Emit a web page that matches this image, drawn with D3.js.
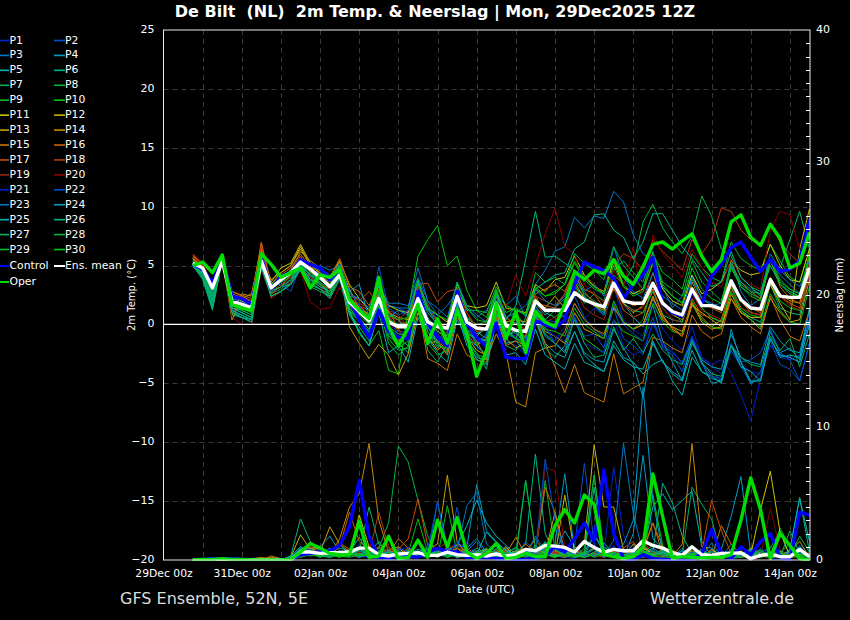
<!DOCTYPE html>
<html><head><meta charset="utf-8">
<script src="https://cdn.jsdelivr.net/npm/d3@7"></script>
<style>html,body{margin:0;padding:0;background:#000;overflow:hidden}svg{display:block}text{font-family:"DejaVu Sans",sans-serif;fill:#fff}</style>
</head><body><svg id="c" width="850" height="620"></svg>
<script>
const memberLabels=["P1","P2","P3","P4","P5","P6","P7","P8","P9","P10","P11","P12","P13","P14","P15","P16","P17","P18","P19","P20","P21","P22","P23","P24","P25","P26","P27","P28","P29","P30"];
const rampColors=["#0022cc","#0050cc","#0078c4","#009cc4","#00b4b4","#00b488","#00b460","#00b440","#00bc1c","#00c800","#c8c800","#c8b400","#c8a000","#c88800","#c87400","#c86400","#c85000","#b43810","#a02410","#8c0000","#0022cc","#0050cc","#0078c4","#009cc4","#00b4b4","#00b488","#00b460","#00b440","#00bc1c","#00c800"];
const memberTemp=[
[5.2,4.6,3,5.6,2.2,1.8,1.2,5.6,3.4,3.6,4.6,5.4,4.6,4.4,3.4,4.4,1.6,0.4,-1.2,1.8,0.2,-0.8,-0.4,2.6,0.4,-1.2,-1.8,1.8,-0.8,-2,-2.4,0.8,-1.4,-1.8,-2.6,0.6,-0.8,-1.4,-0.2,1.8,0.4,1.4,0.8,3.2,0.4,-0.4,-1,2.2,-0.4,-1.4,-2.2,-0.2,-2.8,-3.6,-4.2,-1.8,-3.4,-4,-4.2,-1.8,-2.8,-3,-2.6,0.6],
[5.3,4.9,3.4,5.7,2.3,2,1.6,5.8,3.2,3.8,4.4,5.2,5,4.8,4.2,4.8,1.8,1.2,0.2,3.4,1.6,1.4,1,3.8,1.4,0.2,-0.6,3.2,-0.4,-1,-1.6,1.2,-0.8,-1.2,-1.4,1.4,0.4,0.2,0.8,2.4,0.6,-0.4,-1,1.4,-1.2,-1.8,-2.6,0.2,-1.8,-2.4,-3.2,-1,-3.4,-4,-4.8,-2.2,-3.6,-5,-4,-1.4,-3.4,-3.8,-4.8,-1.6],
[5.4,4.4,2.6,5.9,2.6,2,1.6,6,3.4,3.4,3.4,5.6,4.6,5,4.6,5,2.2,0.8,0.6,2.8,1.6,1.4,1.4,4.8,2,0.8,1.6,2.8,1.4,0.6,1.2,2.6,1.6,2.4,0.6,3.4,4.6,6.2,6.6,9.1,8.2,9.2,9,11.3,10.4,7.6,6,5.4,3.2,1.4,2.4,4.2,2.2,1.8,1.4,5.6,2.8,1.6,2.2,5.4,4.2,3.4,2.6,4.6],
[5.1,4.2,2.2,5.8,1.4,1.2,0.8,5.4,2.8,3.2,3.8,5,3.8,3.4,3,4.6,2.4,2.2,1.4,3.2,1,0.4,-0.8,1.8,-0.2,-1.4,-0.6,2.2,0.2,-1.8,-0.8,2.4,-0.2,0.2,-1.2,1.8,0.8,1.4,2.2,3.2,2.4,1.6,0.8,3.6,1.8,0.6,-0.2,1.6,-1.4,-3.2,-4.8,-1.2,-3.2,-5,-4.8,-0.4,-3.2,-5,-4.6,-0.6,-2.4,-2,-3,1.4],
[4.9,4.2,1.9,5.5,1,0.6,0.4,5,2.8,3.2,3.4,4.8,3.8,3.6,2.4,4,1.2,-0.6,-1.8,1.2,-1,-1.6,-2.4,1.8,-0.6,-1.6,-2.4,1,-1.8,-2.8,-3,0.8,-1.6,-1.4,-2.4,0.4,-1.6,-2.4,-2.8,-0.6,-2.6,-3.4,-4,-1.4,-2.8,-3.2,-4.2,-3.4,-3,-4.8,-6,-2.8,-4,-4.4,-5,-1.8,-3.6,-4,-4.8,-1.2,-2.8,-2.6,-2.8,0.4],
[5,3.8,1.2,5.4,0.8,0.6,0.2,4.8,2.4,2.8,3.6,5.2,3.4,3,2.4,4.4,1.2,0.4,-0.6,2.2,0.6,-0.2,0,3,1,0,-1,2,0.6,-0.6,-1.2,2.8,0.4,1.6,5.5,9.6,5.7,5.8,5.2,4.6,2.4,1.6,1,3.8,1.8,1.2,1,2.8,0.8,0.4,0.2,2.8,1.4,0.6,0.2,3.2,1.2,0.6,0.2,3.4,1.4,1,0.8,4.2],
[5.2,4.2,1.4,5.6,1.2,0.8,0.4,5.2,2.6,3,3.8,5,3.4,3,2.6,4.2,1,-0.2,-1.4,1.8,-0.8,-1.2,-1.8,2.2,-0.6,-2,-1.2,1.4,-1.4,-2.4,-3.8,0.4,-1.8,-2.2,-1,1.6,0.4,1.2,0.6,3.4,1.8,2.6,2,4.6,5.4,4.4,3.6,6.2,3.2,2.4,1.8,3.8,2.2,1.6,1.2,5,3.2,2.6,2.2,5.4,4.8,7.2,9.6,6.4],
[5.1,4,1.6,5.6,1.4,1,0.6,5.2,3,3.6,4,5.4,4,3.4,2.8,4.4,2,0.2,-0.6,2.6,0.4,0,0.2,3.4,1.2,0.4,-0.4,2.8,0.6,0,0.2,3,0.6,1,-0.2,2.4,1,0.6,1.4,3.8,2.6,2,1.4,4.2,3.4,5,8.7,10.2,8.2,7,6,7.5,10.9,9.2,6.4,5.8,4,3.2,2.8,5.4,3.6,3,2.6,5.6],
[5.3,4.7,2.8,5.6,1.8,1.4,1,5.6,3,3.8,4.4,5.2,4.2,3.6,3,4.2,1.4,0.4,-0.4,2.4,-1.2,-2.2,-2,1.6,-1.6,-2.6,-2.2,1.8,-0.4,-1.6,-1.2,2.6,0.2,-0.6,-0.4,3,2.4,2.8,3.4,5.2,3.8,3,2.6,5.6,3.4,2.6,3,6,4.4,3.8,3,6,4.8,4,3.6,7,5.6,5,4.6,6.8,5.4,4,3.6,6.4],
[5.2,4.6,2.6,5.7,2,1.6,1.2,5.4,3.2,3.8,4.2,5,3.8,3.4,2.6,4,1.2,-0.8,-1.8,-0.5,-3.9,-4.2,1.2,5.8,7.2,8.4,5,5.8,2.9,1.2,0.6,2.8,-0.4,-1.2,-1.6,0.6,-0.8,-1.6,-2.4,0.6,-1.2,-1.8,-2.4,0.4,-0.6,-1,-1.4,1.8,0.2,-0.6,-0.8,2,0.4,-0.2,-0.4,3.2,1.4,0.8,0.6,3.6,2,1.4,1.2,4.6],
[5.6,4.8,3.4,5.7,2.6,2.2,1.8,6.2,3.6,4.8,5.2,6.8,5.2,4.2,3.4,5.4,3.4,2.2,1.2,3.4,1.6,1.2,1,3.6,1.4,0.8,0.2,3.4,1.6,1.4,1.6,3.6,1.4,1.2,1,3.4,2.8,3.8,4,5.8,4.2,3.2,2.8,5.4,3.2,2.6,3,5.2,3,2,1.6,4.2,2.6,3,3.6,5.4,4.6,4.2,4.4,6.8,5,3.8,3.6,6.4],
[5.5,5,3.2,5.5,0.4,2.2,2.6,6.4,3.4,4.4,5,6.6,5,4.4,3.8,5,3,1.4,0.8,2.8,1,0.6,0.4,2.8,0.6,-0.6,-1,1.8,0.4,-1,-0.2,2,0.2,0.4,0.2,2.2,1.4,2.4,1.4,3.6,2.2,1.6,1.2,3,1.8,1,1.6,3,0.8,-0.4,-1,1.6,1,0.4,-0.2,2.2,1,0.6,0.6,3.4,1.8,0.4,6.4,9.8],
[5.8,5,3.6,5.8,2.4,2,1.6,5.8,3.8,4.4,5,6.4,5,4,3.2,4.8,-0.2,-1.6,-2.9,-1.7,-2.6,-4.3,-2.5,1,-1,-2.2,-1.4,1.6,-1,-2.2,-2.6,1,-1.2,-2,-1.6,0.8,-0.6,-1,-1.6,1,-0.4,-0.8,-1.2,1.4,0.2,-0.4,0,2.4,0.4,-0.2,-0.6,1.8,0.2,-0.4,-0.2,2.6,1,0.4,-0.4,2.2,1,0.2,0.4,3.8],
[5.6,4.6,3,5.9,0.8,2.6,2.4,6.8,3,4,4.6,6.2,5.4,4.8,4,5.4,2.4,1.4,0.8,2.4,-0.6,-1.4,-0.4,1.6,-1.6,-1.4,-2.6,0.6,-0.6,-1.4,-3,-0.8,-2.4,-6.6,-7,-2.4,-2,-1.8,-0.6,1.8,0.4,-0.4,-0.8,1.6,0.2,-0.4,0,2.2,0.6,-0.2,-1,1.8,0.6,-0.2,0.4,3.4,2,1,0.8,4,2.6,2,1.8,5.6],
[5.7,4.8,3.2,5.6,2.8,2.4,2,6.6,3.2,3.8,4.6,5.8,4.4,4.2,3.6,4.8,2.2,1.6,0.8,3,0.6,-0.6,-0.8,1.6,-2.9,-3.3,-3.9,-0.8,-2.6,-3,-3.2,0.6,-1.8,-1.4,-1.8,0.8,-1.6,-3.6,-5.8,-3.4,-5.8,-6.2,-6.6,-2.5,-5.9,-5.4,-4.9,-1.1,-1.4,-2,-2.4,0.8,-0.6,-1.2,-0.8,2.2,0.6,-0.2,-0.8,2.4,0.4,-1,-1.4,1.2],
[5.5,4.9,3,5.8,2.8,2.5,2.2,7,3.4,4.2,4.8,6,4.8,4.6,4,5.6,3.2,2.8,1.6,3.6,1.2,-0.4,-1.2,2.2,0.4,-1.4,-2.2,1.6,-0.8,-1.8,-1.2,2.4,0.6,0,-0.4,2.6,3,3.4,2.8,4.6,3,2.6,1.4,4,2.2,1.6,1.8,4.4,1.8,0.8,0.4,3.6,1.8,1.4,1,5.2,3.6,2.8,2.2,5.6,3.2,2.2,1.8,5],
[5.9,5.1,3,5.8,2.6,2.3,1.9,6.9,2.6,3.2,4.2,5.4,4.4,4,3.4,4.6,2.6,2,2.8,1.6,0.8,0.4,-0.2,3.4,3.5,1.9,2.8,3,1,-0.6,-0.4,1.4,-0.2,-0.8,-1,1.8,1.6,1.4,2.6,4.2,2.8,1.8,1.4,3.2,1.2,0.6,1,3,0.6,-0.4,-1,2.2,0.8,0.6,0.2,3.4,2,1.4,1,4,2.4,1.8,1.4,4.4],
[5.8,5,3.2,5.9,2.4,2.2,1.6,6.6,2.8,3.4,4,4.8,4,3.4,3,4.2,2,1.6,1.2,2.4,0.6,0.4,1.2,3.2,1.8,0,-0.2,2,0.4,-0.6,-0.4,1.6,-0.4,0.4,-0.6,2.4,2,1.6,2.6,4.6,4.2,3.4,2.6,5,6,5.6,4.6,7.2,6.2,5.4,4.6,7.2,6,7.2,9.9,9.6,8,7.2,6.8,8.6,7,6,5.2,7.6],
[6,5.2,3.4,5.7,2,1.8,1.4,6,2.2,2.8,3.4,4.8,3.8,3.2,2.2,4.2,2.2,1.8,1.4,2.8,1.2,0.8,-0.2,2,0,-1.2,-0.6,2.2,1,-0.2,-0.4,1.2,-0.6,-1,-0.6,2.4,0.2,0.6,1.2,3.2,1.4,0.8,0.4,3.2,1.6,1.2,1.4,3.6,1.4,0.4,0.2,2.6,1.2,0.8,0.4,3,1.4,1,0.8,3.8,2.4,1.6,1.2,4],
[6,5.2,3.5,5.5,0.6,0,0,4.6,2.4,3.2,3.6,4.6,1.9,1.3,1.4,3.2,1.4,0.8,0.4,2.4,0,-0.6,-0.8,1.4,0.2,-1,-0.4,1.6,0.4,-0.6,0.4,1.8,1.6,4.2,2.4,5,7.7,9.9,6.6,6,3.4,2.6,1.8,4.6,3.2,6.6,1.4,7.6,6,5,4,6.4,4.8,3.6,3.2,5.6,4,3.4,3,8,9.6,9.3,6.4,5.4],
[5.2,4.8,3,5.6,2,1.6,1.2,5.4,3,3.8,4.4,5.4,4.8,4.2,3,4.4,1.8,0.6,-0.8,1.8,0.4,-0.8,-0.6,2.8,0.6,-0.8,-1.6,2.4,0.4,-1.2,-1.8,1.6,-0.6,-1,-1.6,1.2,-0.4,-1,-1.4,0.8,-1.6,-2,-2.4,0.4,-1.8,-2.6,-2.2,0,-1.6,-2.2,-3.4,-1,-2.8,-3.4,-3,-4.1,-6,-8.2,-4.6,-1.2,-2.6,-2.8,-3.2,0.2],
[5.4,4.5,2.8,5.8,1.6,1.4,1,5.6,3.4,3.4,2.8,5,4.2,4,3.4,4.8,2.8,1.6,0.4,4.9,1.4,0.8,1.2,3.6,1.6,0.4,-0.4,2,-0.6,-1.4,-1,2,0,-0.8,-1.4,1.4,-0.2,-1.6,-2.2,0.6,-1,-0.8,-2,1.8,0,-0.8,-1.4,0.6,-2,-2.6,-4,-1.2,-3.4,-4.4,-4.6,-1.6,-3.2,-3,-2.4,-0.4,-2.4,-3,-4.8,-1.6],
[5.3,4.7,2.9,5.7,2.2,1.9,1.5,5.7,3.2,3.6,4.4,5.6,5,4.6,3.8,5.2,2.6,2.2,1.4,3.4,1.8,1.8,1.6,4,2,1.4,0.6,3.6,1.6,0.8,0.2,2.4,0.6,1,1.6,3,2,1.6,2.4,4,2.8,3.4,2.4,6.6,4,2.8,2.2,4.4,2.4,1.8,1.2,4,2.2,1.6,1.8,5,3.6,3,2.6,6,4.6,3.8,3.2,5.4],
[5,4.4,2.4,6,1.2,0.8,0.4,5.2,2.8,3.2,3.8,5.2,4.2,3.8,3.2,4.8,2.8,3.4,0.6,2.4,0.6,1.2,0.8,3.6,1.4,-0.2,-1.2,1.8,0.2,-0.8,-0.4,2,-0.8,-0.6,-1.8,0.8,-1,-1.6,-2.4,-0.6,-2.4,-3,-3.2,-0.4,-2,-3.4,-6.2,-1.4,-3.2,-4,-4.6,-1.6,-3,-3.6,-3.8,-0.8,-2.8,-3.2,-3.4,-0.2,-1.4,-2.2,-2.4,1.2],
[5.1,4.3,2.1,5.7,1.4,1,0.6,5.2,2.4,2.8,3.4,5,3.8,3.2,2.8,4.2,1,-0.6,-1.8,1,-2.4,-1.8,-3.2,0.6,-1.2,-2.4,-3.2,0.4,-1.2,-3,-3.4,0.2,-2.6,-2.4,-3.4,-0.4,-2.6,-3.2,-3.8,-1.6,-3.2,-3.6,-4,-1.8,-3,-3.6,-3.8,-1.6,-3.2,-4.2,-4.8,-2.2,-4,-4.6,-4.8,-1.8,-3.2,-4.8,-4.8,-1.2,-2.6,-2.8,-3.2,0],
[5,4,1.6,5.6,1,0.6,0.2,4.8,2.4,2.8,3.4,4.8,3.6,3,2.2,3.8,0.8,-0.6,-1.8,1.6,-0.4,-1,-1.2,2.6,-0.2,-1.6,-0.8,1.6,-0.8,-1.2,-1.4,1.8,-0.4,-1.2,0.6,3,3.6,4.2,4.4,6.4,7,9.3,9.4,8,7.4,5.6,7,9.4,9.4,8,6.6,5.6,4.4,3.2,3.6,6.2,4,3.2,2.4,5,3.4,2.8,2.4,4.8],
[5.1,4,1.4,5.6,1,0.8,0.4,5,2.4,2.8,3.4,4.6,3.2,2.8,2.4,4,1.6,0.6,-0.4,2.6,-0.2,-0.8,-1,2.2,-2.2,-3.2,-1.6,1.4,-1.2,-1.8,-2.6,1.6,-1,-0.6,-1.8,0.4,-2,-2.8,-1.8,0.4,-1.6,-2.8,-2.6,-0.2,-2.2,-1.2,-2.4,-0.8,-2.2,-3,-3.4,-1.4,-3.2,-4.2,-4.4,-1.8,-2.8,-3.4,-3.6,-1,-2.2,-1.2,-3.6,-0.8],
[5.2,4.2,2.2,5.6,1.6,1.2,0.8,5.2,2.8,3.2,3.8,5,4.2,3.4,2.8,4.4,1.2,0.2,-1,2,-0.6,-2,-1.4,2.8,0.6,-0.6,-1.2,3.6,1.2,1.2,1,3.2,1.6,1.2,0.8,4.4,3.6,4,3.4,6,5.2,4.6,3.8,6.6,5,4,3,6,3.6,3,2.4,5.4,3.6,2.8,2,5.2,3.4,2.8,2.6,5.6,3.8,3,2.6,6],
[5.3,4.5,2.6,5.9,1.8,1.4,1,5.4,3,3.6,4.2,5.6,4.4,3.8,3.2,4.6,1.4,0.4,-0.8,1.6,-1.6,-2.6,-1.8,2.2,0.2,-1.8,-2,1.4,-1.2,-2.6,-2.8,1,-0.6,-1.2,-1.8,1,-0.4,-0.6,-1,1.4,0,-0.6,-1.2,2,0.2,-0.4,0.4,3.6,2,1,0.2,3.2,1.4,0.6,0.2,2.8,1.2,0.4,-0.2,2.6,1.2,0.2,0,3.2],
[5.2,4.7,3,5.8,2,1.6,1.2,5.6,3.4,4,4.6,5.4,4.6,4,3.4,5,2.2,0.8,0,2.8,0.8,0.4,0.6,3.8,1.4,0.8,0.4,3,1.4,0.4,0.2,2.6,1,1.4,0.8,3.2,2.4,2.6,3.4,5.4,4,3.2,2.6,5,3.2,2.4,2.8,5.2,3.4,2.4,1.8,4.8,3,2.2,1.8,4.8,3.2,2.4,2,5.4,3.4,2.6,2.4,6]
];
const controlTemp=[5.1,4.7,3.5,5.7,2.4,2.2,1.7,5.7,3,4.1,4.4,5.5,5.1,4.8,3.8,4.7,2.1,0.4,-1.1,1.2,-0.6,-1.1,-1.2,2.8,0.1,-1.1,-1.8,2.8,0.1,-1.1,-1.9,0.1,-2.8,-2.9,-2.9,0.3,0,-0.3,0.4,3.4,5.3,4.9,4.6,3.9,2.2,3.4,4.2,5.7,1.8,1,0.7,2.8,1.7,4.1,5.1,6.5,7,5.7,4.5,5.5,4.5,4.7,5.4,8.9];
const operTemp=[5,5.3,4.4,5.9,1.7,1.4,1.2,6,5.1,4,4.4,4.8,3.1,4.2,4,4.7,2.1,1.2,0.5,4,-0.2,-1.8,-0.3,1.7,-1.6,0.5,-1.6,1.2,-0.8,-4.4,-2.2,1.8,-1.2,1.1,-2.4,1.1,0.2,-0.2,1.7,4.5,3.8,4.6,4.3,5.5,4.1,3.4,4.9,6.8,7,6.4,7.1,7.7,5.8,4.5,5.5,8.7,9.3,7.4,6.7,8.5,7.3,4.8,5.2,7.8];
const meanTemp=[5.2,4.8,3.1,5.4,1.95,1.7,1.4,5.4,3.1,3.8,4.4,5.3,4.7,4,3.2,4.2,1.9,1.1,0.3,2.2,0.2,-0.2,-0.2,2.2,0.2,-0.2,-0.3,2.4,0.2,-0.3,-0.4,1.8,-0.1,-0.5,-0.6,2,1.2,1.2,1.2,2.7,2.1,1.75,1.5,3.5,2,1.8,1.8,3.5,1.8,1.1,0.8,3,1.6,1.6,1.3,3.7,2.1,1.4,1.3,3.8,2.4,2.3,2.3,4.8];
const memberRain=[
[0,0,.1,0,0,0,0,0,0,0,.1,.4,.6,.3,.8,.5,.4,1.2,.3,.2,0,.1,.6,.2,.4,.2,.8,.1,1.4,.3,.2,.6,.1,.8,.3,.1,1.2,.4,.2,.1,.6,2.2,.3,1.1,.2,.1,.4,.8,.2,0,.1,.3,0,.1,.8,.2,.6,.1,.3,.2,0,.4,.1,0],
[0,0,.1,0,0,0,0,0,0,0,0,.7,.9,.4,.2,.6,.8,.4,.2,.1,.5,.8,.2,.6,1,.4,.6,1.4,.3,.5,.4,.8,.2,.1,1.4,.6,.3,2.4,.6,1,7.3,1.2,.3,.4,.2,.6,.9,.3,.1,.6,.2,.4,.1,.8,.3,.1,.2,.4,.2,1,.1,.2,1.1,.4],
[0,0,0,.1,0,0,0,0,0,0,.2,1,.7,.5,.3,1.2,.4,.2,.6,.3,.1,.4,.8,.3,.2,4.4,1,.3,.7,1.4,.4,.2,.9,.1,.4,1.8,.7,.3,.2,.6,.4,1.1,.3,1.5,8.8,3.5,.5,.6,.3,.2,.9,.1,.3,.7,.2,1.2,.4,.3,.8,.1,.4,.6,.2,.3],
[0,0,0,0,0,.1,0,0,0,0,0,.5,.8,1,1.8,.6,.3,.9,.4,.2,.3,.2,.5,.6,.3,.8,.4,1.2,1,5.7,2.2,1.4,.7,.3,.5,.2,.6,1.2,6.5,.7,.2,.5,1,.3,.2,2,7.9,1.6,.9,.4,.3,.1,.5,.2,.8,3.3,6.3,.5,.3,.2,.6,.2,.8,.3],
[0,.1,0,0,0,0,0,0,0,0,.1,.9,.4,.3,.2,.4,.6,1.7,.4,.3,.2,.5,.1,.3,.6,.4,.7,1.1,2.6,4.5,2.8,1.8,1.1,.4,.7,.2,1.4,.5,2.2,1,.5,.3,1.3,.4,.3,1.2,.6,4,5,3.8,4.5,5.2,1,.9,.3,.1,.5,.2,.4,.6,.2,.3,1,.2],
[0,0,.1,0,0,0,0,0,0,0,.3,3.1,1.4,.5,.7,.9,.7,.3,.5,1.4,.3,.2,.6,.4,.9,.3,.6,.2,.4,.9,.5,.6,.3,.6,1.2,8,2,.4,.7,.3,.2,.4,.7,.3,.4,.2,1,.6,5.8,4.3,1.8,.5,.3,.2,.1,.3,.4,.2,.5,.3,.2,.7,4.7,.6],
[0,0,0,0,0,0,0,0,0,0,0,.6,.5,.2,.9,.4,.3,.6,4,1.2,.4,.1,.3,.7,.2,.5,.7,.3,.2,.4,.1,.9,.6,.2,6,.8,1.3,.4,.6,.2,.5,.9,.2,.6,.3,.4,.5,.7,.3,.1,.4,5.5,4.2,3.1,.2,.5,.2,.3,.6,.9,2.2,.3,.8,.2],
[0,0,0,.1,0,0,0,0,0,0,.1,.8,.7,1,.5,.3,.2,.4,.3,.9,2.8,8.6,7.4,4.5,1.8,.4,.7,.2,.3,.6,.2,.5,.4,.3,.5,.6,6,.8,.4,.3,.6,1.8,1,.5,.2,.6,.4,1.2,.7,.3,.2,.5,.8,.4,.1,.3,.5,.2,.3,.2,.6,1.2,.4,.2],
[0,0,0,0,0,0,0,0,0,0,.1,.7,.4,.6,.3,.5,.4,.5,.3,.6,.8,.3,.5,3.1,.6,.2,4.1,.5,.3,.7,.4,.8,.3,.2,.6,.4,1.2,.7,.3,.2,.9,6.4,.6,.3,.7,.2,1.1,.6,.4,.8,.2,.3,.6,.2,.4,.1,.3,.6,.2,.4,2.4,1,.3,.2],
[0,0,0,0,0,0,0,0,0,0,0,.3,.5,.3,.4,.2,.6,.3,.8,.4,.2,.6,.3,.2,.5,.9,.2,.4,.2,.3,.7,.2,.4,1,.3,.5,.4,.2,.6,.2,.3,.5,.2,.9,.6,.4,.3,4.9,1.1,.5,.3,.2,.6,.3,.2,.4,.2,.5,.8,.2,.3,.2,.3,.6],
[0,0,0,0,0,0,0,0,0,0,.1,.8,.5,.3,.6,.4,.5,3.4,1,.3,.6,.7,.2,.4,.3,.6,.4,.9,.5,.7,.4,.3,1,.2,.3,.8,.5,.2,.7,.4,.6,.3,.8,.2,.4,.3,.9,.5,.2,.7,.3,.4,.2,.8,.3,.5,.2,.4,3.8,6.7,2.1,.3,.4,.2],
[0,0,0,0,0,0,0,0,0,0,.2,1.9,.8,.4,.3,.6,.7,.3,.5,.2,.4,.9,.3,.6,.2,.5,.4,.7,.3,.6,.8,.2,.4,.7,.3,.5,.9,.3,4.9,.6,1.2,8.7,4,4,.8,.3,.6,.4,.5,.2,.3,.7,.4,.2,.3,.6,.4,.2,.5,.3,.7,.4,.2,.3],
[0,0,0,0,0,0,.1,0,0,.1,.1,.5,.9,.6,2.5,1.2,.6,.4,.3,.5,.7,1,.4,.2,.8,1.2,6.4,1.4,.5,.3,.8,.4,.2,.6,.9,.3,.5,3.6,.4,.7,.3,.9,.4,.6,.2,.5,1.1,.3,.6,.2,.5,.4,.8,.3,.5,.2,.3,.9,.5,.2,.4,.6,1.4,.2],
[0,0,0,0,0,0,.1,0,.3,.1,.1,.6,1,.8,.4,1.6,4,5,8.8,3,.6,.3,.7,.4,.3,.6,.9,.2,.5,.4,.3,.7,.5,1.7,.4,.3,.8,.5,.2,.6,.4,.3,.6,.9,.3,.5,.2,.4,.8,.3,1.2,8.8,1.4,.3,.4,.7,.3,.5,.2,.6,.3,.4,.2,.5],
[0,0,0,0,0,.1,.1,.2,.1,.1,0,.4,1.2,.7,.5,1.3,.8,.6,.4,.3,.5,1.6,.9,.4,.6,.3,.8,.5,.2,.6,.4,.3,.7,.4,1.2,.6,5.5,3.6,.7,.4,.3,.6,.4,.8,.3,1.2,.6,2.8,.5,.3,.2,.4,.6,.2,2.6,1.2,.4,.7,.3,.2,.5,.3,.6,.2],
[0,0,0,0,0,0,0,0,.2,.1,0,.3,.7,.5,.3,1,3.6,1.4,.8,.6,.4,.3,.9,.5,.3,.5,.3,.6,.9,.4,.2,.6,.8,.3,.5,1.6,.4,.7,.3,.5,.2,.6,.3,.4,.7,.3,.9,2.8,1,.5,.3,.6,.2,.4,.3,.5,.7,.2,.4,.3,.6,.2,.3,.4],
[0,0,0,0,0,0,0,0,0,.1,0,.4,.8,.3,.6,.5,.7,.3,.6,1,.5,.8,1.6,4.6,1.1,.4,.6,.9,.3,.5,.4,.2,.3,.6,.2,.7,.4,.3,.5,.8,.4,.3,.5,.2,.9,1.4,.3,.6,.2,.7,.3,.4,.6,4.5,2.2,.5,.3,.2,.4,.5,.3,.6,.2,.4],
[0,0,0,0,0,0,0,0,0,0,.1,.5,.6,.4,.3,.7,.6,.9,.5,3.6,1,.3,.5,.4,.7,.5,.8,1.2,.4,.3,.6,.5,.2,.4,.7,.3,.9,.5,.4,.3,.6,.4,.2,.7,.3,.6,1.5,.4,.3,.5,.6,.2,.4,.3,.7,.2,.5,.3,.2,.4,.6,.3,.2,.5],
[0,0,0,0,0,0,0,0,0,0,.1,.3,.8,.5,.4,.3,.4,.2,.7,.5,.9,.4,.6,.3,.5,.9,1.3,.4,.6,.2,.3,.5,.6,.3,.4,.5,.2,.6,.3,.4,.7,.2,.5,.3,.4,.8,.3,.6,.2,.4,.3,.5,.2,.6,.3,.4,.2,.5,.3,.2,.4,.2,.3,.6],
[0,0,0,0,0,0,0,0,0,0,0,.2,.6,.4,.3,.5,.3,.6,.4,.2,.5,.3,.4,.6,.2,.4,.5,.7,.3,.4,.2,.3,.5,.2,.6,.3,7,6.7,.9,.4,.3,.6,.2,.4,.5,.3,.6,.2,.4,.2,.5,.3,.4,.2,.3,.2,.4,.2,.3,3.9,.8,.2,.3,.4],
[0,0,.1,.1,.1,0,0,0,0,0,.1,.6,.5,.8,.4,.7,.5,.3,.2,.6,.4,.7,1,.5,.4,.6,.3,1.4,.7,.5,.3,.6,.2,.5,.3,.7,.4,1.2,.5,.2,.6,.3,.5,7,1.9,.4,.2,.7,.5,.2,.6,.3,.8,.4,.2,.6,.3,.2,.9,.4,.2,.5,.3,.2],
[0,0,0,0,0,0,0,0,0,0,.2,.7,.8,.3,.6,.5,.4,.7,.3,.5,.2,.9,.6,.3,.8,4.4,.5,4,.4,.7,.3,.5,.4,.3,.8,.6,7.6,3,.7,.4,.3,.5,.7,.2,.6,.9,.4,.3,.5,.3,.2,.6,.4,.2,.3,.8,.4,.7,.2,.5,.3,.4,.6,.2],
[0,0,0,0,0,0,0,0,0,0,.1,.9,.6,.5,.9,.4,.3,.8,.6,.4,.7,.3,.5,.2,.5,.3,.4,.8,4.1,5.1,1.2,.6,.3,.5,.7,.2,.5,.9,.3,.6,.4,.8,.2,.5,.3,.6,.4,.2,.7,.3,.5,.4,.2,1.3,.3,.5,.3,.2,.4,.6,.3,.2,.7,.4],
[0,0,0,0,0,0,0,0,0,0,.2,.6,.4,.7,.3,.6,.5,.2,.4,.3,.6,.4,.2,.5,.3,.7,.5,.3,.9,1.6,.6,.3,.4,.6,.2,.5,.9,.3,.6,.2,.5,.3,.7,.4,1.2,3,13,4.5,.6,.2,.4,.5,.3,.6,.2,.4,.2,.5,.3,.4,.2,.6,.3,.5],
[0,0,0,0,0,0,0,0,0,0,.1,.4,.7,.3,.5,.6,.4,.9,.3,.7,.2,.5,.4,.8,.6,.3,.5,.2,.7,.4,2.1,1.3,.7,.4,.8,.3,.5,.2,.6,.4,.3,1.9,.6,.3,.7,.2,.5,.9,.4,.3,.7,.2,.5,.3,.6,.2,.4,.8,.3,.5,.2,.8,4.7,1.4],
[0,0,0,0,0,0,0,0,0,0,.3,1,.5,.4,.3,.7,.5,.4,.8,.3,.6,.2,.4,.3,.7,.5,.2,.6,.3,.4,.7,.2,.5,.9,.4,1.1,.6,.3,.5,.7,.4,5.5,.3,.5,.2,.7,.3,.4,.6,.3,.2,.5,.7,.3,.4,.2,.5,.3,.6,.2,.4,.3,.7,.3],
[0,0,0,0,0,0,0,0,0,0,.1,.5,.3,.6,.4,.3,.6,.4,.5,.9,.3,.7,.2,.5,.8,.3,.6,.4,.2,.5,.9,.3,.6,.2,.5,.4,.7,.3,.5,.4,.2,.6,.8,.3,.4,.5,.2,.7,.3,.6,.2,.4,.7,.2,.5,.3,.4,.2,.3,.6,.2,2.2,.5,.3],
[0,0,0,0,0,0,0,0,0,0,.1,.4,.6,.2,.5,.4,.3,.7,.6,.2,.4,.3,.6,.4,.2,.6,.3,.5,.7,.2,.4,.6,.3,.5,6,.7,.4,.3,.6,.2,.5,6.4,.4,.3,.6,.2,.4,.5,.7,.3,.5,.2,.4,.6,.2,.3,.2,.4,.7,.3,.5,.2,1.8,.6],
[0,0,0,0,0,0,0,0,0,0,.1,.3,.5,.4,.2,.6,.4,.3,.5,.7,.2,.6,.4,.3,.5,.2,.7,.4,.3,.6,.2,.5,.3,.6,.4,.2,.5,.8,.3,.4,.2,.5,.3,.6,.2,.4,.7,.3,.5,.2,.4,.3,.6,.2,.3,.5,.2,.6,.3,.4,.2,.5,.3,.2],
[0,0,0,0,0,0,0,0,0,0,.1,.2,.4,.3,.5,.2,.6,.3,.4,.2,.5,.3,.6,.2,.4,.5,.3,.6,.2,.4,.3,.5,.2,.4,.6,.3,.5,.2,.4,.3,.6,.2,.5,.3,.4,.2,.6,.3,.2,.4,.3,.5,.2,.4,.3,.2,.5,.3,.2,.4,.6,.2,.3,.4]
];
const controlRain=[0,.05,.1,.1,.1,.05,.05,0,0,.05,.02,.4,.5,.6,.7,1.1,2.5,6,1.8,.2,.1,.5,.3,.2,.6,.9,.6,.6,.2,.1,.2,.1,.1,0,.05,.1,.3,1,.6,1.6,2.8,1.4,6.8,2,.1,0,.4,.1,.05,0,0,0,.5,2.3,.5,.1,1,.4,1.4,2,.2,0,3.6,3.4];
const operRain=[0,.05,.05,.1,.05,.05,0,0,0,0,.05,.6,1.25,.9,.5,.4,.4,2.9,.2,.3,1.8,.1,.2,1.5,.2,3,1,3.2,.6,.1,.5,1.25,.1,.2,.5,.25,.25,2.6,3.8,2.8,4.9,4.2,.4,.25,.1,.25,1,6.5,3.3,.1,.25,.2,.15,.2,.2,.4,3,6.2,3.8,.1,2,1.1,.1,0];
const meanRain=[0,0,.02,.03,.02,.02,.02,.02,.02,.02,.05,.6,.6,.5,.55,.55,.6,.9,.9,.4,.3,.45,.5,.55,.35,.35,.6,.4,.35,.4,.3,.45,.3,.4,.8,.7,1.1,1.05,.95,.6,1.4,.95,.6,.8,.7,.7,1.45,1.1,.9,.55,.35,1,.4,.35,.5,.5,.55,.1,.35,.45,.25,.25,.8,.25];
const tempTicks=[25,20,15,10,5,0,-5,-10,-15,-20];
const rainTicks=[0,10,20,30,40];

const svg=d3.select("#c");
const L=163.5,R=810,T=30,B=560;
const start=Date.UTC(2025,11,29,0);
const firstPoint=Date.UTC(2025,11,29,18);
const sixHours=6*3600*1000,day=24*3600*1000;
const x=d3.scaleUtc().domain([new Date(start),new Date(Date.UTC(2026,0,14,12,20))]).range([L,R]);
const yT=d3.scaleLinear().domain([-20,25]).range([B,T]);
const yR=d3.scaleLinear().domain([0,40]).range([B,T]);
const tVal=i=>new Date(firstPoint+i*sixHours);
const lineT=d3.line().x((d,i)=>x(tVal(i))).y(d=>yT(d));
const lineR=d3.line().x((d,i)=>x(tVal(i))).y(d=>yR(d));
svg.append("defs").append("clipPath").attr("id","pl").append("rect").attr("x",L).attr("y",T).attr("width",R-L).attr("height",B-T+1);

const days=d3.range(1,17).map(k=>new Date(start+k*day));
const grid=svg.append("g").attr("stroke","#3a3a32").attr("stroke-width",1).attr("stroke-dasharray","5,4");
grid.selectAll("line.v").data(days).join("line").attr("x1",d=>Math.round(x(d))+.5).attr("x2",d=>Math.round(x(d))+.5).attr("y1",T).attr("y2",B);
grid.selectAll("line.h").data(tempTicks.filter(d=>d!==0&&d!==25&&d!==-20)).join("line").attr("class","h").attr("x1",L).attr("x2",R).attr("y1",d=>Math.round(yT(d))+.5).attr("y2",d=>Math.round(yT(d))+.5);

const plot=svg.append("g").attr("clip-path","url(#pl)").attr("fill","none").attr("stroke-linejoin","round");
memberTemp.forEach((s,k)=>plot.append("path").attr("d",lineT(s)).attr("stroke",rampColors[k]).attr("stroke-width",1));
memberRain.forEach((s,k)=>plot.append("path").attr("d",lineR(s)).attr("stroke",rampColors[k]).attr("stroke-width",1));
plot.append("line").attr("x1",L).attr("x2",R).attr("y1",yT(0)).attr("y2",yT(0)).attr("stroke","#fff").attr("stroke-width",1.2);
[[controlTemp,lineT,"#0000ff"],[controlRain,lineR,"#0000ff"],[meanTemp,lineT,"#ffffff"],[meanRain,lineR,"#ffffff"],[operTemp,lineT,"#00dd00"],[operRain,lineR,"#00dd00"]]
 .forEach(([s,l,c])=>plot.append("path").attr("d",l(s)).attr("stroke",c).attr("stroke-width",3.4));

svg.append("rect").attr("x",L).attr("y",T).attr("width",R-L).attr("height",B-T).attr("fill","none").attr("stroke","#e8e8e8").attr("stroke-width",1);

const ax=svg.append("g").attr("transform",`translate(0,${B})`).call(d3.axisBottom(x).tickValues(d3.range(0,9).map(k=>new Date(start+2*k*day))).tickFormat(d3.utcFormat("%d%b %Hz")).tickSize(0).tickPadding(9));
ax.select(".domain").remove();ax.selectAll("text").attr("font-size",10.8).attr("fill","#fff").style("font-family",'"DejaVu Sans"');
const al=svg.append("g").attr("transform",`translate(${L},0)`).call(d3.axisLeft(yT).tickValues(tempTicks).tickSize(0).tickPadding(9));
al.select(".domain").remove();al.selectAll("text").attr("font-size",11).attr("fill","#fff").attr("dy","0.22em").style("font-family",'"DejaVu Sans"');
const ar=svg.append("g").attr("transform",`translate(${R},0)`).call(d3.axisRight(yR).tickValues(rainTicks).tickSize(0).tickPadding(6));
ar.select(".domain").remove();ar.selectAll("text").attr("font-size",11).attr("fill","#fff").attr("dy","0.22em").style("font-family",'"DejaVu Sans"');
svg.append("g").selectAll("line").data(d3.range(1,40)).join("line").attr("x1",R-4).attr("x2",R).attr("y1",d=>Math.round(yR(d))+.5).attr("y2",d=>Math.round(yR(d))+.5).attr("stroke","#fff");

svg.append("text").attr("x",435).attr("y",17).attr("text-anchor","middle").attr("font-size",16).attr("font-weight","bold").attr("xml:space","preserve").style("white-space","pre").text("De Bilt  (NL)  2m Temp. & Neerslag | Mon, 29Dec2025 12Z");
svg.append("text").attr("transform","translate(135,295) rotate(-90)").attr("text-anchor","middle").attr("font-size",10).text("2m Temp. (°C)");
svg.append("text").attr("transform","translate(843,295) rotate(-90)").attr("text-anchor","middle").attr("font-size",10).text("Neerslag (mm)");
svg.append("text").attr("x",486).attr("y",593).attr("text-anchor","middle").attr("font-size",10.5).text("Date (UTC)");
svg.append("text").attr("x",120).attr("y",604).attr("font-size",16).style("fill","#dcdcdc").text("GFS Ensemble, 52N, 5E");
svg.append("text").attr("x",650).attr("y",604).attr("font-size",16).style("fill","#dcdcdc").text("Wetterzentrale.de");

const legend=svg.append("g");
const entries=memberLabels.map((n,k)=>({n,c:rampColors[k],col:k%2,y:39.5+14.93*Math.floor(k/2),w:1.6}));
entries.push({n:"Control",c:"#0000ff",col:0,y:265,w:2},{n:"Ens. mean",c:"#ffffff",col:1,y:265,w:2},{n:"Oper",c:"#00dd00",col:0,y:281,w:2});
entries.forEach(e=>{const x0=e.col?54:0;
 legend.append("line").attr("x1",x0).attr("x2",x0+(e.col?11:9)).attr("y1",e.y+1).attr("y2",e.y+1).attr("stroke",e.c).attr("stroke-width",e.w);
 legend.append("text").attr("x",x0+(e.col?11:9.5)).attr("y",e.y+4).attr("font-size",10.8).text(e.n);});
</script></body></html>
